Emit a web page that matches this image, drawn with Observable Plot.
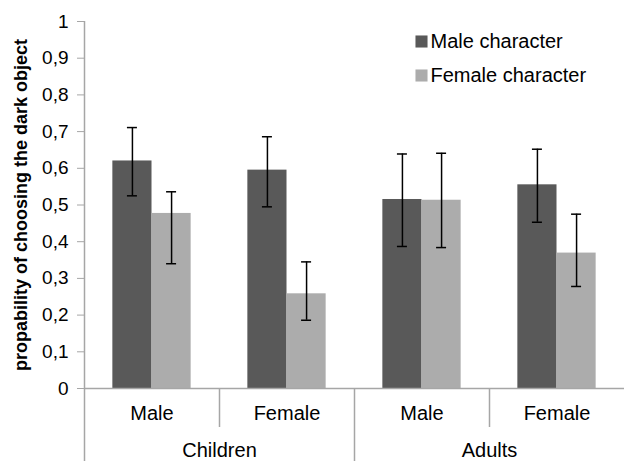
<!DOCTYPE html>
<html><head><meta charset="utf-8">
<script src="https://cdn.jsdelivr.net/npm/d3@7"></script>
<script src="https://cdn.jsdelivr.net/npm/@observablehq/plot@0.6"></script>
<style>html,body{margin:0;padding:0;background:#fff}#chart svg{display:block}</style>
</head><body><div id="chart"></div>
<script>
const ageGroups = ["Children", "Adults"];
const participantGender = ["Male", "Female"];
const series = ["Male character", "Female character"];
const maleCharacter = [0.620, 0.595, 0.515, 0.555];
const maleCharacterLow = [0.525, 0.495, 0.387, 0.453];
const maleCharacterHigh = [0.711, 0.686, 0.639, 0.652];
const femaleCharacter = [0.477, 0.258, 0.513, 0.369];
const femaleCharacterLow = [0.340, 0.186, 0.384, 0.278];
const femaleCharacterHigh = [0.536, 0.345, 0.641, 0.475];
const yTicks = [0, 0.1, 0.2, 0.3, 0.4, 0.5, 0.6, 0.7, 0.8, 0.9, 1];
const yTickLabels = ["0", "0,1", "0,2", "0,3", "0,4", "0,5", "0,6", "0,7", "0,8", "0,9", "1"];
const yTitle = "propability of choosing the dark object";
const seriesColors = ["#595959", "#acacac"];
const axisGray = "#a6a6a6";

const values = [maleCharacter, femaleCharacter];
const lows = [maleCharacterLow, femaleCharacterLow];
const highs = [maleCharacterHigh, femaleCharacterHigh];

const cells = ageGroups.flatMap((age, a) => participantGender.map((gender, s) => ({age, gender, k: a * 2 + s})));
const rows = cells.flatMap(c => series.map((name, j) => ({
  ...c, series: name, j,
  value: values[j][c.k], lo: lows[j][c.k], hi: highs[j][c.k]
})));

const barFrac = 0.29;
const bx1 = d => d.k + 0.5 + (d.j - 1) * barFrac;
const bx2 = d => bx1(d) + barFrac;
const bcx = d => bx1(d) + barFrac / 2;

const chart = Plot.plot({
  width: 624,
  height: 461,
  marginLeft: 84,
  marginRight: 0,
  marginTop: 21,
  marginBottom: 0,
  x: {domain: [0, 4], axis: null},
  y: {domain: [0, 1], insetBottom: 73},
  color: {domain: series, range: seriesColors},
  style: {fontFamily: "'Liberation Sans', Arial, sans-serif", fontSize: "18px", color: "#000", background: "#fff"},
  marks: [
    Plot.rectY(rows, {x1: bx1, x2: bx2, y: "value", fill: "series"}),
    Plot.ruleY([0], {stroke: axisGray, strokeWidth: 1.5}),
    Plot.ruleX([0], {stroke: axisGray, strokeWidth: 1.5}),
    Plot.ruleX([2], {y1: 0, y2: 0, insetBottom: -74, stroke: axisGray, strokeWidth: 1.5}),
    Plot.ruleX([1, 3], {y1: 0, y2: 0, insetBottom: -39, stroke: axisGray, strokeWidth: 1.5}),
    Plot.axisY({ticks: yTicks, tickFormat: d => yTickLabels[yTicks.indexOf(d)], tickSize: 7, tickPadding: 9,
      fontSize: 19, stroke: axisGray, fill: "#000", label: null}),
    Plot.ruleX(rows, {x: bcx, y1: "lo", y2: "hi", stroke: "#000", strokeWidth: 1.5}),
    Plot.ruleY(rows, {x1: bcx, x2: bcx, y: "hi", insetLeft: -5, insetRight: -5, stroke: "#000", strokeWidth: 1.5}),
    Plot.ruleY(rows, {x1: bcx, x2: bcx, y: "lo", insetLeft: -5, insetRight: -5, stroke: "#000", strokeWidth: 1.5}),
    Plot.text(cells, {x: d => d.k + 0.5, y: 0, text: "gender", dy: 25.3, fontSize: 20, lineAnchor: "middle", fill: "#000"}),
    Plot.text(ageGroups, {x: (d, i) => 2 * i + 1, y: 0, text: d => d, dy: 62.3, fontSize: 20, lineAnchor: "middle", fill: "#000"}),
    Plot.text([yTitle], {frameAnchor: "left", y: 0.5, text: d => d, rotate: -90, dx: -63, fontWeight: "bold",
      fontSize: 18, textAnchor: "middle", lineAnchor: "middle", fill: "#000"}),
    ...series.flatMap((s, i) => [
      Plot.dot([s], {frameAnchor: "top-left", dx: 337, dy: 20 + 34 * i, symbol: "square", r: 6.8, fill: d => d}),
      Plot.text([s], {frameAnchor: "top-left", dx: 346, dy: 20 + 34 * i, text: d => d, textAnchor: "start",
        lineAnchor: "middle", fontSize: 20, fill: "#000"})
    ])
  ]
});
document.getElementById("chart").appendChild(chart);
</script>
</body></html>
